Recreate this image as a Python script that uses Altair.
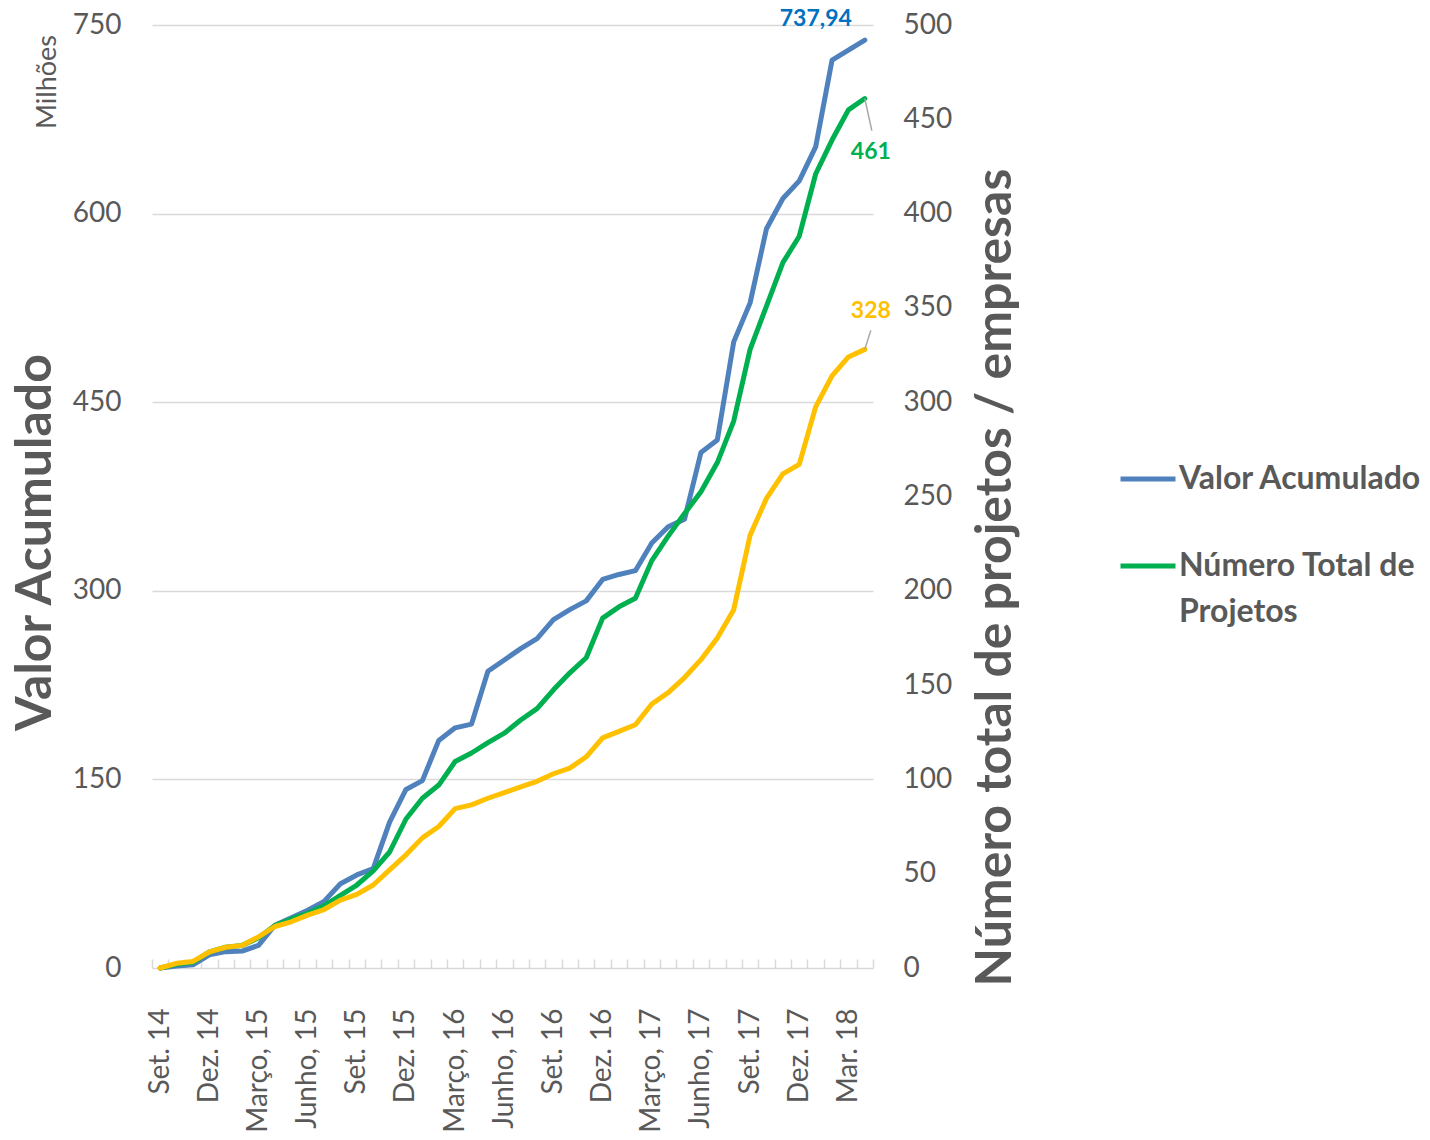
import altair as alt
import pandas as pd

meses = [
    "Set. 14", "Out. 14", "Nov. 14", "Dez. 14", "Jan. 15", "Fev. 15", "Março, 15", "Abr. 15",
    "Maio, 15", "Junho, 15", "Jul. 15", "Ago. 15", "Set. 15", "Out. 15", "Nov. 15", "Dez. 15",
    "Jan. 16", "Fev. 16", "Março, 16", "Abr. 16", "Maio, 16", "Junho, 16", "Jul. 16", "Ago. 16",
    "Set. 16", "Out. 16", "Nov. 16", "Dez. 16", "Jan. 17", "Fev. 17", "Março, 17", "Abr. 17",
    "Maio, 17", "Junho, 17", "Jul. 17", "Ago. 17", "Set. 17", "Out. 17", "Nov. 17", "Dez. 17",
    "Jan. 18", "Fev. 18", "Mar. 18", "Abr. 18",
]

mostrar = [
    "Set. 14", "Dez. 14", "Março, 15", "Junho, 15", "Set. 15", "Dez. 15", "Março, 16",
    "Junho, 16", "Set. 16", "Dez. 16", "Março, 17", "Junho, 17", "Set. 17", "Dez. 17", "Mar. 18",
]

valor = [
    0, 1.5, 2.5, 10.5, 13, 13.5, 18, 34, 40, 46, 53, 67, 74, 79, 116, 142,
    149, 181, 191, 194, 236, 245, 254, 262, 277, 285, 292, 309, 313, 316, 338, 351,
    357, 410, 420, 498, 529, 588, 612, 626, 653, 722, 730, 737.94,
]

projetos = [
    0, 2, 3, 8.5, 11, 12, 16, 22.5, 26, 29, 33, 38.5, 44, 51.5, 61.5, 79,
    90, 97, 109.5, 114, 119.5, 124.5, 131.5, 137.5, 147.5, 156.5, 164.5, 185.5, 191.5, 196, 216, 229,
    241, 252.5, 268, 290, 328, 351, 374, 388, 421, 439, 455, 461,
]

empresas = [
    0, 2.5, 3.5, 8.5, 11, 12, 16.5, 22, 24.5, 28, 31, 36, 39, 44, 52, 60,
    69, 75, 84.5, 86.5, 90, 93, 96, 99, 103, 106, 112, 122, 125.5, 129, 140, 146,
    154, 163.5, 175, 190, 229.5, 249, 262, 267, 297.5, 314, 324, 328,
]

S_VALOR = "Valor Acumulado"
S_PROJ = "Número Total de Projetos"
S_EMP = "Número Total de Empresas"
LEG_L2 = "Projetos"  # second line of the green legend entry

rows = []
for serie, vals in [(S_VALOR, valor), (S_PROJ, projetos), (S_EMP, empresas)]:
    for i, m in enumerate(meses):
        v = vals[i]
        lab = (f"{v:.2f}".replace(".", ",") if serie == S_VALOR else f"{v:.0f}")
        rows.append({"mes": m, "serie": serie, "v": v, "rotulo": lab,
                     "ultimo": i == len(meses) - 1})
df = pd.DataFrame(rows)

FONT = "Lato"
GRAY = "#595959"
GRID = "#D9D9D9"

W, H = 721, 943

shown_expr = "[" + ",".join("'" + s + "'" for s in mostrar) + "]"

x_enc = alt.X(
    "mes:N", sort=meses,
    scale=alt.Scale(type="band", paddingInner=0, paddingOuter=0),
    axis=alt.Axis(
        title=None, labelAngle=270, labelOverlap=False,
        labelExpr=f"indexof({shown_expr}, datum.value) >= 0 ? datum.value : ''",
        tickBand="extent", tickSize=9, tickColor=GRID, tickWidth=1.5,
        domain=False, offset=-9, labelPadding=40, grid=False,
        labelFont=FONT, labelFontSize=28, labelColor=GRAY,
    ),
)

y_left = alt.Y(
    "v:Q",
    scale=alt.Scale(domain=[0, 750], nice=False, zero=True),
    axis=alt.Axis(
        values=[0, 150, 300, 450, 600, 750], title="Valor Acumulado", orient="left",
        grid=True, gridColor=GRID, gridWidth=1.5, domain=False, ticks=False,
        labelPadding=31, labelFont=FONT, labelFontSize=28, labelColor=GRAY,
        titleFont=FONT, titleFontSize=50, titleFontWeight="bold", titleColor=GRAY,
        titleAngle=270, titleX=-102, titleY=517, titleAlign="center",
        titleBaseline="alphabetic",
    ),
)

y_right = alt.Y(
    "v:Q",
    scale=alt.Scale(domain=[0, 500], nice=False, zero=True),
    axis=alt.Axis(
        values=list(range(0, 501, 50)), title="Número total de projetos / empresas",
        orient="right", grid=False, domain=False, ticks=False,
        labelPadding=30, labelFont=FONT, labelFontSize=28, labelColor=GRAY,
        titleFont=FONT, titleFontSize=50, titleFontWeight="bold", titleColor=GRAY,
        titleAngle=270, titleX=137, titleY=552, titleAlign="center",
        titleBaseline="alphabetic",
    ),
)

leg_common = dict(
    title=None, orient="none", symbolType="stroke", symbolSize=3025, symbolStrokeWidth=5,
    labelFont=FONT, labelFontSize=32, labelFontWeight="bold", labelColor=GRAY,
    labelLimit=600, labelOffset=1, padding=0,
)

color_left = alt.Color(
    "serie:N",
    scale=alt.Scale(domain=[S_VALOR], range=["#4F81BD"]),
    legend=alt.Legend(values=[S_VALOR], legendX=966, legendY=424, **leg_common),
)

color_right = alt.Color(
    "serie:N",
    scale=alt.Scale(domain=[S_PROJ, S_EMP, LEG_L2],
                    range=["#00B050", "#FFC000", "rgba(255,255,255,0)"]),
    legend=alt.Legend(
        values=[S_PROJ, LEG_L2], legendX=966, legendY=511, rowPadding=-4,
        labelExpr=f"datum.label == '{S_PROJ}' ? 'Número Total de' : datum.label",
        **leg_common),
)

base = alt.Chart(df)
line_kw = dict(strokeWidth=5, strokeCap="round", strokeJoin="round")

blue = base.transform_filter(alt.datum.serie == S_VALOR).mark_line(**line_kw).encode(
    x=x_enc, y=y_left, color=color_left)
blue_lab = base.transform_filter((alt.datum.serie == S_VALOR) & alt.datum.ultimo).mark_text(
    font=FONT, fontSize=23, fontWeight="bold", color="#0070C0", dx=-49, dy=-21,
    baseline="middle", align="center",
).encode(x=x_enc, y=y_left, text="rotulo:N")
milhoes = base.transform_filter((alt.datum.serie == S_VALOR) & alt.datum.ultimo).mark_text(
    font=FONT, fontSize=27, color=GRAY, angle=270, baseline="middle", align="center",
).encode(x=alt.value(-104), y=alt.value(57), text=alt.value("Milhões"))

left = alt.layer(blue, blue_lab, milhoes)

green_last = base.transform_filter((alt.datum.serie == S_PROJ) & alt.datum.ultimo)
yellow_last = base.transform_filter((alt.datum.serie == S_EMP) & alt.datum.ultimo)

green_line = base.transform_filter(alt.datum.serie == S_PROJ).mark_line(**line_kw).encode(
    x=x_enc, y=y_right, color=color_right)
yellow_line = base.transform_filter(alt.datum.serie == S_EMP).mark_line(**line_kw).encode(
    x=x_enc, y=y_right, color=color_right)

green_rule = green_last.mark_rule(color="#A6A6A6", strokeWidth=1.5, x2Offset=7, y2Offset=32).encode(
    x=x_enc, x2="mes:N", y=y_right, y2="v:Q")
yellow_rule = yellow_last.mark_rule(color="#A6A6A6", strokeWidth=1.5, x2Offset=6, y2Offset=-19).encode(
    x=x_enc, x2="mes:N", y=y_right, y2="v:Q")
green_lab = green_last.mark_text(
    font=FONT, fontSize=23, fontWeight="bold", color="#00B050", dx=6, dy=53,
    baseline="middle", align="center").encode(x=x_enc, y=y_right, text="rotulo:N")
yellow_lab = yellow_last.mark_text(
    font=FONT, fontSize=23, fontWeight="bold", color="#FFC000", dx=6, dy=-38,
    baseline="middle", align="center").encode(x=x_enc, y=y_right, text="rotulo:N")

right = alt.layer(green_line, yellow_line, green_rule, yellow_rule, green_lab, yellow_lab)

chart = alt.layer(left, right).resolve_scale(y="independent", color="independent").properties(
    width=W, height=H,
    background="white",
    autosize=alt.AutoSizeParams(type="none"),
    padding={"left": 144, "top": 17, "right": 549, "bottom": 164},
).configure_view(stroke=None)

chart.save("out.html", embed_options={"renderer": "svg", "actions": False})
